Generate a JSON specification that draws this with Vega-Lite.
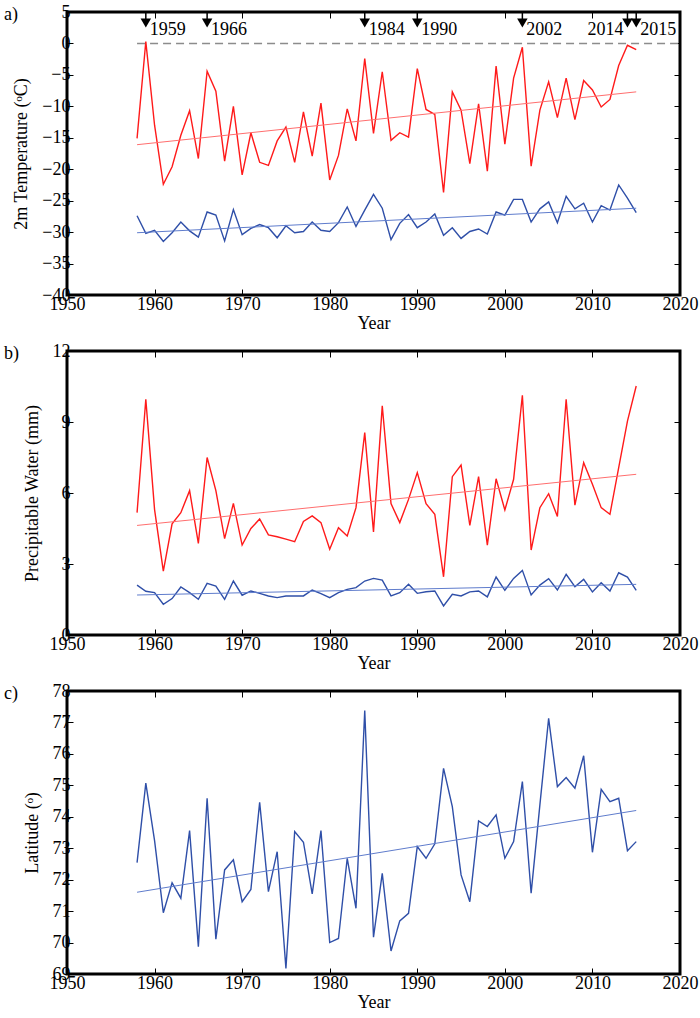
{
  "$schema": "https://vega.github.io/schema/vega-lite/v6.json",
  "padding": {"left": 2, "top": 1, "right": 5, "bottom": 2},
  "spacing": 6,
  "config": {
    "view": {"stroke": "black", "strokeWidth": 3},
    "font": "Liberation Serif",
    "axis": {
      "domain": false, "grid": false, "ticks": true, "tickSize": -6, "tickColor": "black", "tickWidth": 1, "zindex": 1,
      "labelFont": "Liberation Serif", "labelFontSize": 18, "labelColor": "black", "labelFlush": false, "labelOverlap": false,
      "titleFont": "Liberation Serif", "titleFontSize": 18, "titleFontWeight": "normal", "titleColor": "black"
    },
    "axisBottom": {"labelPadding": 6, "titlePadding": 1},
    "axisLeft": {"labelPadding": 3, "titlePadding": 11}
  },
  "datasets": {
    "temp": [
      {"year":1958,"series":"upper","value":-15.1},{"year":1959,"series":"upper","value":0.3},{"year":1960,"series":"upper","value":-13},{"year":1961,"series":"upper","value":-22.4},{"year":1962,"series":"upper","value":-19.6},{"year":1963,"series":"upper","value":-14.6},{"year":1964,"series":"upper","value":-10.7},{"year":1965,"series":"upper","value":-18.3},{"year":1966,"series":"upper","value":-4.4},{"year":1967,"series":"upper","value":-7.6},{"year":1968,"series":"upper","value":-18.7},{"year":1969,"series":"upper","value":-10},{"year":1970,"series":"upper","value":-20.9},{"year":1971,"series":"upper","value":-14.2},{"year":1972,"series":"upper","value":-18.9},{"year":1973,"series":"upper","value":-19.4},{"year":1974,"series":"upper","value":-15.5},{"year":1975,"series":"upper","value":-13.3},{"year":1976,"series":"upper","value":-18.9},{"year":1977,"series":"upper","value":-10.9},{"year":1978,"series":"upper","value":-17.9},{"year":1979,"series":"upper","value":-9.5},{"year":1980,"series":"upper","value":-21.7},{"year":1981,"series":"upper","value":-17.8},{"year":1982,"series":"upper","value":-10.4},{"year":1983,"series":"upper","value":-15.5},{"year":1984,"series":"upper","value":-2.4},{"year":1985,"series":"upper","value":-14.3},{"year":1986,"series":"upper","value":-4.5},{"year":1987,"series":"upper","value":-15.4},{"year":1988,"series":"upper","value":-14.2},{"year":1989,"series":"upper","value":-14.9},{"year":1990,"series":"upper","value":-4},{"year":1991,"series":"upper","value":-10.5},{"year":1992,"series":"upper","value":-11.3},{"year":1993,"series":"upper","value":-23.7},{"year":1994,"series":"upper","value":-7.7},{"year":1995,"series":"upper","value":-10.6},{"year":1996,"series":"upper","value":-19.1},{"year":1997,"series":"upper","value":-9.6},{"year":1998,"series":"upper","value":-20.3},{"year":1999,"series":"upper","value":-3.6},{"year":2000,"series":"upper","value":-16},{"year":2001,"series":"upper","value":-5.5},{"year":2002,"series":"upper","value":-0.6},{"year":2003,"series":"upper","value":-19.5},{"year":2004,"series":"upper","value":-10.6},{"year":2005,"series":"upper","value":-6.1},{"year":2006,"series":"upper","value":-11.8},{"year":2007,"series":"upper","value":-5.5},{"year":2008,"series":"upper","value":-12.1},{"year":2009,"series":"upper","value":-5.9},{"year":2010,"series":"upper","value":-7.4},{"year":2011,"series":"upper","value":-10.1},{"year":2012,"series":"upper","value":-8.9},{"year":2013,"series":"upper","value":-3.5},{"year":2014,"series":"upper","value":-0.3},{"year":2015,"series":"upper","value":-1},
      {"year":1958,"series":"lower","value":-27.4},{"year":1959,"series":"lower","value":-30.2},{"year":1960,"series":"lower","value":-29.7},{"year":1961,"series":"lower","value":-31.5},{"year":1962,"series":"lower","value":-30.1},{"year":1963,"series":"lower","value":-28.4},{"year":1964,"series":"lower","value":-29.8},{"year":1965,"series":"lower","value":-30.8},{"year":1966,"series":"lower","value":-26.8},{"year":1967,"series":"lower","value":-27.3},{"year":1968,"series":"lower","value":-31.4},{"year":1969,"series":"lower","value":-26.4},{"year":1970,"series":"lower","value":-30.4},{"year":1971,"series":"lower","value":-29.4},{"year":1972,"series":"lower","value":-28.8},{"year":1973,"series":"lower","value":-29.3},{"year":1974,"series":"lower","value":-30.9},{"year":1975,"series":"lower","value":-29},{"year":1976,"series":"lower","value":-30.1},{"year":1977,"series":"lower","value":-29.9},{"year":1978,"series":"lower","value":-28.4},{"year":1979,"series":"lower","value":-29.7},{"year":1980,"series":"lower","value":-29.9},{"year":1981,"series":"lower","value":-28.5},{"year":1982,"series":"lower","value":-26},{"year":1983,"series":"lower","value":-29.1},{"year":1984,"series":"lower","value":-26.5},{"year":1985,"series":"lower","value":-24},{"year":1986,"series":"lower","value":-26.2},{"year":1987,"series":"lower","value":-31.2},{"year":1988,"series":"lower","value":-28.6},{"year":1989,"series":"lower","value":-27.2},{"year":1990,"series":"lower","value":-29.3},{"year":1991,"series":"lower","value":-28.4},{"year":1992,"series":"lower","value":-27.1},{"year":1993,"series":"lower","value":-30.5},{"year":1994,"series":"lower","value":-29.3},{"year":1995,"series":"lower","value":-31},{"year":1996,"series":"lower","value":-29.9},{"year":1997,"series":"lower","value":-29.5},{"year":1998,"series":"lower","value":-30.3},{"year":1999,"series":"lower","value":-26.8},{"year":2000,"series":"lower","value":-27.3},{"year":2001,"series":"lower","value":-24.8},{"year":2002,"series":"lower","value":-24.8},{"year":2003,"series":"lower","value":-28.4},{"year":2004,"series":"lower","value":-26.3},{"year":2005,"series":"lower","value":-25.2},{"year":2006,"series":"lower","value":-28.5},{"year":2007,"series":"lower","value":-24.3},{"year":2008,"series":"lower","value":-26.3},{"year":2009,"series":"lower","value":-25.4},{"year":2010,"series":"lower","value":-28.4},{"year":2011,"series":"lower","value":-25.8},{"year":2012,"series":"lower","value":-26.5},{"year":2013,"series":"lower","value":-22.5},{"year":2014,"series":"lower","value":-24.6},{"year":2015,"series":"lower","value":-26.9}
    ],
    "tempTrend": [
      {"year":1958,"series":"upper trend","value":-16.1},{"year":2015,"series":"upper trend","value":-7.7},
      {"year":1958,"series":"lower trend","value":-30.1},{"year":2015,"series":"lower trend","value":-26.2}
    ],
    "zero": [{"year":1958,"value":0},{"year":2020,"value":0}],
    "events": [
      {"year":1959,"label":"1959"},{"year":1966,"label":"1966"},{"year":1984,"label":"1984"},{"year":1990,"label":"1990"},{"year":2002,"label":"2002"},{"year":2014,"label":"2014"},{"year":2015,"label":"2015"}
    ],
    "pw": [
      {"year":1958,"series":"upper","value":5.17},{"year":1959,"series":"upper","value":9.96},{"year":1960,"series":"upper","value":5.3},{"year":1961,"series":"upper","value":2.7},{"year":1962,"series":"upper","value":4.7},{"year":1963,"series":"upper","value":5.17},{"year":1964,"series":"upper","value":6.1},{"year":1965,"series":"upper","value":3.87},{"year":1966,"series":"upper","value":7.5},{"year":1967,"series":"upper","value":6.1},{"year":1968,"series":"upper","value":4.07},{"year":1969,"series":"upper","value":5.56},{"year":1970,"series":"upper","value":3.8},{"year":1971,"series":"upper","value":4.5},{"year":1972,"series":"upper","value":4.9},{"year":1973,"series":"upper","value":4.23},{"year":1974,"series":"upper","value":4.15},{"year":1975,"series":"upper","value":4.05},{"year":1976,"series":"upper","value":3.94},{"year":1977,"series":"upper","value":4.8},{"year":1978,"series":"upper","value":5.03},{"year":1979,"series":"upper","value":4.75},{"year":1980,"series":"upper","value":3.62},{"year":1981,"series":"upper","value":4.53},{"year":1982,"series":"upper","value":4.18},{"year":1983,"series":"upper","value":5.38},{"year":1984,"series":"upper","value":8.55},{"year":1985,"series":"upper","value":4.35},{"year":1986,"series":"upper","value":9.68},{"year":1987,"series":"upper","value":5.55},{"year":1988,"series":"upper","value":4.75},{"year":1989,"series":"upper","value":5.73},{"year":1990,"series":"upper","value":6.86},{"year":1991,"series":"upper","value":5.55},{"year":1992,"series":"upper","value":5.1},{"year":1993,"series":"upper","value":2.46},{"year":1994,"series":"upper","value":6.69},{"year":1995,"series":"upper","value":7.18},{"year":1996,"series":"upper","value":4.63},{"year":1997,"series":"upper","value":6.69},{"year":1998,"series":"upper","value":3.8},{"year":1999,"series":"upper","value":6.6},{"year":2000,"series":"upper","value":5.28},{"year":2001,"series":"upper","value":6.58},{"year":2002,"series":"upper","value":10.13},{"year":2003,"series":"upper","value":3.59},{"year":2004,"series":"upper","value":5.38},{"year":2005,"series":"upper","value":5.97},{"year":2006,"series":"upper","value":5.01},{"year":2007,"series":"upper","value":9.96},{"year":2008,"series":"upper","value":5.49},{"year":2009,"series":"upper","value":7.28},{"year":2010,"series":"upper","value":6.37},{"year":2011,"series":"upper","value":5.38},{"year":2012,"series":"upper","value":5.1},{"year":2013,"series":"upper","value":7.07},{"year":2014,"series":"upper","value":9.04},{"year":2015,"series":"upper","value":10.52},
      {"year":1958,"series":"lower","value":2.11},{"year":1959,"series":"lower","value":1.85},{"year":1960,"series":"lower","value":1.79},{"year":1961,"series":"lower","value":1.3},{"year":1962,"series":"lower","value":1.54},{"year":1963,"series":"lower","value":2.03},{"year":1964,"series":"lower","value":1.79},{"year":1965,"series":"lower","value":1.51},{"year":1966,"series":"lower","value":2.18},{"year":1967,"series":"lower","value":2.07},{"year":1968,"series":"lower","value":1.51},{"year":1969,"series":"lower","value":2.28},{"year":1970,"series":"lower","value":1.68},{"year":1971,"series":"lower","value":1.86},{"year":1972,"series":"lower","value":1.76},{"year":1973,"series":"lower","value":1.65},{"year":1974,"series":"lower","value":1.58},{"year":1975,"series":"lower","value":1.65},{"year":1976,"series":"lower","value":1.65},{"year":1977,"series":"lower","value":1.65},{"year":1978,"series":"lower","value":1.9},{"year":1979,"series":"lower","value":1.75},{"year":1980,"series":"lower","value":1.58},{"year":1981,"series":"lower","value":1.79},{"year":1982,"series":"lower","value":1.93},{"year":1983,"series":"lower","value":2.0},{"year":1984,"series":"lower","value":2.28},{"year":1985,"series":"lower","value":2.39},{"year":1986,"series":"lower","value":2.32},{"year":1987,"series":"lower","value":1.65},{"year":1988,"series":"lower","value":1.79},{"year":1989,"series":"lower","value":2.14},{"year":1990,"series":"lower","value":1.76},{"year":1991,"series":"lower","value":1.83},{"year":1992,"series":"lower","value":1.86},{"year":1993,"series":"lower","value":1.23},{"year":1994,"series":"lower","value":1.72},{"year":1995,"series":"lower","value":1.65},{"year":1996,"series":"lower","value":1.82},{"year":1997,"series":"lower","value":1.86},{"year":1998,"series":"lower","value":1.61},{"year":1999,"series":"lower","value":2.45},{"year":2000,"series":"lower","value":1.89},{"year":2001,"series":"lower","value":2.39},{"year":2002,"series":"lower","value":2.73},{"year":2003,"series":"lower","value":1.69},{"year":2004,"series":"lower","value":2.11},{"year":2005,"series":"lower","value":2.38},{"year":2006,"series":"lower","value":1.9},{"year":2007,"series":"lower","value":2.56},{"year":2008,"series":"lower","value":2.04},{"year":2009,"series":"lower","value":2.35},{"year":2010,"series":"lower","value":1.82},{"year":2011,"series":"lower","value":2.21},{"year":2012,"series":"lower","value":1.86},{"year":2013,"series":"lower","value":2.63},{"year":2014,"series":"lower","value":2.45},{"year":2015,"series":"lower","value":1.89}
    ],
    "pwTrend": [
      {"year":1958,"series":"upper trend","value":4.63},{"year":2015,"series":"upper trend","value":6.79},
      {"year":1958,"series":"lower trend","value":1.69},{"year":2015,"series":"lower trend","value":2.14}
    ],
    "lat": [
      {"year":1958,"series":"lower","value":72.54},{"year":1959,"series":"lower","value":75.07},{"year":1960,"series":"lower","value":73.24},{"year":1961,"series":"lower","value":70.95},{"year":1962,"series":"lower","value":71.9},{"year":1963,"series":"lower","value":71.41},{"year":1964,"series":"lower","value":73.56},{"year":1965,"series":"lower","value":69.87},{"year":1966,"series":"lower","value":74.59},{"year":1967,"series":"lower","value":70.11},{"year":1968,"series":"lower","value":72.31},{"year":1969,"series":"lower","value":72.63},{"year":1970,"series":"lower","value":71.3},{"year":1971,"series":"lower","value":71.69},{"year":1972,"series":"lower","value":74.46},{"year":1973,"series":"lower","value":71.62},{"year":1974,"series":"lower","value":72.89},{"year":1975,"series":"lower","value":69.18},{"year":1976,"series":"lower","value":73.53},{"year":1977,"series":"lower","value":73.19},{"year":1978,"series":"lower","value":71.55},{"year":1979,"series":"lower","value":73.56},{"year":1980,"series":"lower","value":70.0},{"year":1981,"series":"lower","value":70.13},{"year":1982,"series":"lower","value":72.68},{"year":1983,"series":"lower","value":71.09},{"year":1984,"series":"lower","value":77.38},{"year":1985,"series":"lower","value":70.17},{"year":1986,"series":"lower","value":72.2},{"year":1987,"series":"lower","value":69.73},{"year":1988,"series":"lower","value":70.69},{"year":1989,"series":"lower","value":70.93},{"year":1990,"series":"lower","value":73.05},{"year":1991,"series":"lower","value":72.68},{"year":1992,"series":"lower","value":73.14},{"year":1993,"series":"lower","value":75.54},{"year":1994,"series":"lower","value":74.32},{"year":1995,"series":"lower","value":72.15},{"year":1996,"series":"lower","value":71.3},{"year":1997,"series":"lower","value":73.87},{"year":1998,"series":"lower","value":73.69},{"year":1999,"series":"lower","value":74.06},{"year":2000,"series":"lower","value":72.68},{"year":2001,"series":"lower","value":73.21},{"year":2002,"series":"lower","value":75.12},{"year":2003,"series":"lower","value":71.57},{"year":2004,"series":"lower","value":74.38},{"year":2005,"series":"lower","value":77.13},{"year":2006,"series":"lower","value":74.96},{"year":2007,"series":"lower","value":75.25},{"year":2008,"series":"lower","value":74.91},{"year":2009,"series":"lower","value":75.94},{"year":2010,"series":"lower","value":72.87},{"year":2011,"series":"lower","value":74.87},{"year":2012,"series":"lower","value":74.48},{"year":2013,"series":"lower","value":74.59},{"year":2014,"series":"lower","value":72.92},{"year":2015,"series":"lower","value":73.21}
    ],
    "latTrend": [
      {"year":1958,"series":"lower trend","value":71.6},{"year":2015,"series":"lower trend","value":74.2}
    ]
  },
  "vconcat": [
    {
      "width": 613, "height": 283,
      "resolve": {"axis": {"x": "independent", "y": "independent"}},
      "layer": [
        {
          "data": {"name": "temp"},
          "mark": {"type": "line", "strokeWidth": 1.4},
          "encoding": {
            "x": {"field": "year", "type": "quantitative", "scale": {"domain": [1950, 2020], "nice": false}, "axis": {"values": [1950,1960,1970,1980,1990,2000,2010,2020], "format": "d", "title": "Year"}},
            "y": {"field": "value", "type": "quantitative", "scale": {"domain": [-40, 5], "nice": false}, "axis": {"values": [-40,-35,-30,-25,-20,-15,-10,-5,0,5], "title": "2m Temperature (ᵒC)"}},
            "color": {"field": "series", "type": "nominal", "scale": {"domain": ["upper","lower","upper trend","lower trend"], "range": ["#ff1a1a","#2f4fa8","#ff6e6e","#5f7ccc"]}, "legend": null}
          }
        },
        {
          "data": {"name": "tempTrend"},
          "mark": {"type": "line", "strokeWidth": 1},
          "encoding": {
            "x": {"field": "year", "type": "quantitative", "axis": {"orient": "top", "labels": false, "title": null, "values": [1950,1960,1970,1980,1990,2000,2010,2020]}},
            "y": {"field": "value", "type": "quantitative", "axis": {"orient": "right", "labels": false, "title": null, "values": [-40,-35,-30,-25,-20,-15,-10,-5,0,5]}},
            "color": {"field": "series", "type": "nominal", "legend": null}
          }
        },
        {
          "data": {"name": "zero"},
          "mark": {"type": "line", "strokeDash": [8, 5], "color": "#8c8c8c", "strokeWidth": 1.5},
          "encoding": {
            "x": {"field": "year", "type": "quantitative", "axis": null},
            "y": {"field": "value", "type": "quantitative", "axis": null}
          }
        },
        {
          "data": {"name": "events"},
          "mark": {"type": "rule", "color": "black", "strokeWidth": 1.5},
          "encoding": {
            "x": {"field": "year", "type": "quantitative", "axis": null},
            "y": {"datum": 5, "type": "quantitative", "axis": null},
            "y2": {"datum": 3.4}
          }
        },
        {
          "data": {"name": "events"},
          "mark": {"type": "point", "shape": "triangle-down", "filled": true, "color": "black", "size": 110, "opacity": 1},
          "encoding": {
            "x": {"field": "year", "type": "quantitative", "axis": null},
            "y": {"datum": 3.25, "type": "quantitative", "axis": null}
          }
        },
        {
          "data": {"name": "events"},
          "transform": [{"filter": "datum.year != 2014"}],
          "mark": {"type": "text", "align": "left", "baseline": "alphabetic", "dx": 4, "fontSize": 18, "font": "Liberation Serif", "color": "black"},
          "encoding": {
            "x": {"field": "year", "type": "quantitative", "axis": null},
            "y": {"datum": 1.35, "type": "quantitative", "axis": null},
            "text": {"field": "label"}
          }
        },
        {
          "data": {"name": "events"},
          "transform": [{"filter": "datum.year == 2014"}],
          "mark": {"type": "text", "align": "right", "baseline": "alphabetic", "dx": -4, "fontSize": 18, "font": "Liberation Serif", "color": "black"},
          "encoding": {
            "x": {"field": "year", "type": "quantitative", "axis": null},
            "y": {"datum": 1.35, "type": "quantitative", "axis": null},
            "text": {"field": "label"}
          }
        },
        {
          "data": {"values": [{"panel": "a)"}]},
          "mark": {"type": "text", "align": "left", "baseline": "middle", "dx": -63, "dy": 3, "fontSize": 18, "font": "Liberation Serif", "color": "black"},
          "encoding": {
            "x": {"datum": 1950, "type": "quantitative", "axis": null},
            "y": {"datum": 5, "type": "quantitative", "axis": null},
            "text": {"field": "panel"}
          }
        }
      ]
    },
    {
      "width": 613, "height": 284,
      "resolve": {"axis": {"x": "independent", "y": "independent"}},
      "layer": [
        {
          "data": {"name": "pw"},
          "mark": {"type": "line", "strokeWidth": 1.4},
          "encoding": {
            "x": {"field": "year", "type": "quantitative", "scale": {"domain": [1950, 2020], "nice": false}, "axis": {"values": [1950,1960,1970,1980,1990,2000,2010,2020], "format": "d", "title": "Year"}},
            "y": {"field": "value", "type": "quantitative", "scale": {"domain": [0, 12], "nice": false}, "axis": {"values": [0,3,6,9,12], "title": "Precipitable Water (mm)"}},
            "color": {"field": "series", "type": "nominal", "scale": {"domain": ["upper","lower","upper trend","lower trend"], "range": ["#ff1a1a","#2f4fa8","#ff6e6e","#5f7ccc"]}, "legend": null}
          }
        },
        {
          "data": {"name": "pwTrend"},
          "mark": {"type": "line", "strokeWidth": 1},
          "encoding": {
            "x": {"field": "year", "type": "quantitative", "axis": {"orient": "top", "labels": false, "title": null, "values": [1950,1960,1970,1980,1990,2000,2010,2020]}},
            "y": {"field": "value", "type": "quantitative", "axis": {"orient": "right", "labels": false, "title": null, "values": [0,3,6,9,12]}},
            "color": {"field": "series", "type": "nominal", "legend": null}
          }
        },
        {
          "data": {"values": [{"panel": "b)"}]},
          "mark": {"type": "text", "align": "left", "baseline": "middle", "dx": -63, "dy": 3, "fontSize": 18, "font": "Liberation Serif", "color": "black"},
          "encoding": {
            "x": {"datum": 1950, "type": "quantitative", "axis": null},
            "y": {"datum": 12, "type": "quantitative", "axis": null},
            "text": {"field": "panel"}
          }
        }
      ]
    },
    {
      "width": 613, "height": 283,
      "resolve": {"axis": {"x": "independent", "y": "independent"}},
      "layer": [
        {
          "data": {"name": "lat"},
          "mark": {"type": "line", "strokeWidth": 1.4},
          "encoding": {
            "x": {"field": "year", "type": "quantitative", "scale": {"domain": [1950, 2020], "nice": false}, "axis": {"values": [1950,1960,1970,1980,1990,2000,2010,2020], "format": "d", "title": "Year"}},
            "y": {"field": "value", "type": "quantitative", "scale": {"domain": [69, 78], "nice": false}, "axis": {"values": [69,70,71,72,73,74,75,76,77,78], "title": "Latitude (ᵒ)"}},
            "color": {"field": "series", "type": "nominal", "scale": {"domain": ["upper","lower","upper trend","lower trend"], "range": ["#ff1a1a","#2f4fa8","#ff6e6e","#5f7ccc"]}, "legend": null}
          }
        },
        {
          "data": {"name": "latTrend"},
          "mark": {"type": "line", "strokeWidth": 1},
          "encoding": {
            "x": {"field": "year", "type": "quantitative", "axis": {"orient": "top", "labels": false, "title": null, "values": [1950,1960,1970,1980,1990,2000,2010,2020]}},
            "y": {"field": "value", "type": "quantitative", "axis": {"orient": "right", "labels": false, "title": null, "values": [69,70,71,72,73,74,75,76,77,78]}},
            "color": {"field": "series", "type": "nominal", "legend": null}
          }
        },
        {
          "data": {"values": [{"panel": "c)"}]},
          "mark": {"type": "text", "align": "left", "baseline": "middle", "dx": -63, "dy": 3, "fontSize": 18, "font": "Liberation Serif", "color": "black"},
          "encoding": {
            "x": {"datum": 1950, "type": "quantitative", "axis": null},
            "y": {"datum": 78, "type": "quantitative", "axis": null},
            "text": {"field": "panel"}
          }
        }
      ]
    }
  ]
}
